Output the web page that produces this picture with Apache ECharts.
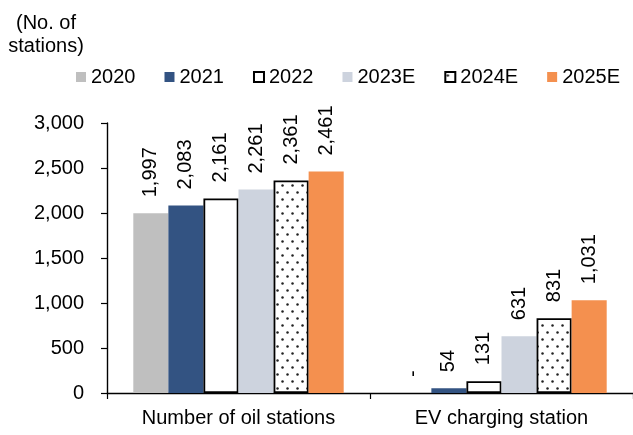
<!DOCTYPE html>
<html>
<head>
<meta charset="utf-8">
<script src="https://cdn.jsdelivr.net/npm/echarts@6/dist/echarts.min.js"></script>
<style>
html,body{margin:0;padding:0;background:#fff;}
#chart{width:633px;height:435px;}
</style>
</head>
<body>
<div id="chart"></div>
<script>
var categories = ['Number of oil stations', 'EV charging station'];
var seriesNames = ['2020', '2021', '2022', '2023E', '2024E', '2025E'];
var v2020 = [1997, 0];
var v2021 = [2083, 54];
var v2022 = [2161, 131];
var v2023E = [2261, 631];
var v2024E = [2361, 831];
var v2025E = [2461, 1031];
var yTicks = [0, 500, 1000, 1500, 2000, 2500, 3000];

var FONT = '"Liberation Sans", Arial, sans-serif';

var pc = document.createElement('canvas');
pc.width = 10; pc.height = 14;
var px = pc.getContext('2d');
px.fillStyle = '#ffffff';
px.fillRect(0, 0, 10, 14);
px.fillStyle = '#222222';
px.beginPath(); px.arc(2.5, 3.5, 1.25, 0, Math.PI * 2); px.fill();
px.beginPath(); px.arc(7.5, 10.5, 1.25, 0, Math.PI * 2); px.fill();

var styles = [
  { color: '#bfbfbf' },
  { color: '#335382' },
  { color: '#ffffff', borderColor: '#000000', borderWidth: 1.8 },
  { color: '#cdd3de' },
  { color: { image: pc, repeat: 'repeat' }, borderColor: '#000000', borderWidth: 1.8 },
  { color: '#f4904f' }
];
var values = [v2020, v2021, v2022, v2023E, v2024E, v2025E];

var chart = echarts.init(document.getElementById('chart'));
chart.setOption({
  animation: false,
  textStyle: { fontFamily: FONT },
  graphic: [{
    type: 'text',
    x: 46, y: 12,
    style: {
      text: '(No. of\nstations)',
      font: '20px ' + FONT,
      fill: '#000',
      textAlign: 'center',
      textVerticalAlign: 'top',
      lineHeight: 23
    }
  }],
  legend: {
    left: 71,
    top: 62,
    itemWidth: 10,
    itemHeight: 10,
    itemGap: 29,
    icon: 'rect',
    textStyle: { fontSize: 20, color: '#000', fontFamily: FONT },
    data: seriesNames
  },
  grid: { left: 107, right: 0, top: 123, bottom: 42, containLabel: false },
  xAxis: {
    type: 'category',
    data: categories,
    axisLine: { lineStyle: { color: '#000', width: 1.4 } },
    axisTick: { show: true, length: 6, lineStyle: { color: '#000', width: 1.2 } },
    axisLabel: { fontSize: 20, color: '#000', margin: 15, fontFamily: FONT }
  },
  yAxis: {
    type: 'value',
    min: yTicks[0],
    max: yTicks[yTicks.length - 1],
    interval: 500,
    splitLine: { show: false },
    axisLine: { show: true, lineStyle: { color: '#000', width: 1.4 } },
    axisTick: { show: true, length: 6, lineStyle: { color: '#000', width: 1.2 } },
    axisLabel: {
      fontSize: 20, color: '#000', margin: 23, fontFamily: FONT,
      formatter: function (v) { return v.toLocaleString('en-US'); }
    }
  },
  series: seriesNames.map(function (name, i) {
    return {
      name: name,
      type: 'bar',
      data: values[i],
      barGap: '0%',
      barCategoryGap: '20%',
      itemStyle: styles[i],
      label: {
        show: true,
        position: 'top',
        rotate: 90,
        align: 'left',
        verticalAlign: 'middle',
        distance: 16,
        fontSize: 20,
        color: '#000',
        fontFamily: FONT,
        formatter: function (p) { return p.value === 0 ? '-' : p.value.toLocaleString('en-US'); }
      }
    };
  })
});
</script>
</body>
</html>
